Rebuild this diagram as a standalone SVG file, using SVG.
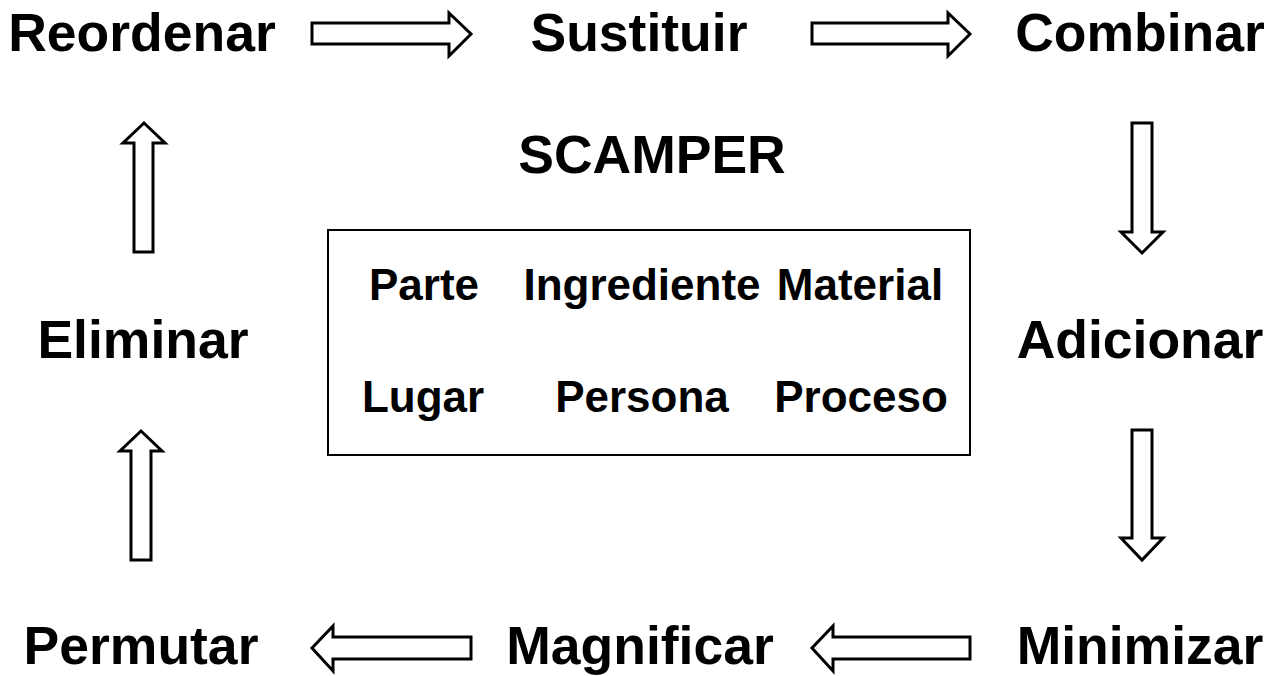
<svg xmlns="http://www.w3.org/2000/svg" width="1284" height="676" viewBox="0 0 1284 676">
<style>
.lbl{font-family:"Liberation Sans",Arial,sans-serif;font-weight:bold;font-size:53.5px;fill:#000;text-anchor:middle}
.in{font-family:"Liberation Sans",Arial,sans-serif;font-weight:bold;font-size:44px;fill:#000;text-anchor:middle}
.arr{fill:#fff;stroke:#000;stroke-width:3;stroke-linejoin:miter}
</style>
<rect width="1284" height="676" fill="#fff"/>
<g id="connectors">
<polygon class="arr" points="312,23 449,23 449,13 471,34 449,56 449,44 312,44"/>
<polygon class="arr" points="812,23 948,23 948,13 970,34 948,56 948,44 812,44"/>
<polygon class="arr" points="1132,123 1152,123 1152,232 1163,232 1142,253 1121,232 1132,232"/>
<polygon class="arr" points="1132,430 1152,430 1152,538 1163,538 1142,560 1121,538 1132,538"/>
<polygon class="arr" points="471,637 333,637 333,626 312,648 333,671 333,659 471,659"/>
<polygon class="arr" points="970,637 833,637 833,626 812,648 833,671 833,659 970,659"/>
<polygon class="arr" points="134,252 153,252 153,143 165,143 144,123 123,143 134,143"/>
<polygon class="arr" points="131,560 151,560 151,451 162,451 141,431 120,451 131,451"/>
</g>
<g id="reordenar"><text class="lbl" x="142" y="51">Reordenar</text></g>
<g id="sustituir"><text class="lbl" x="639" y="51">Sustituir</text></g>
<g id="combinar"><text class="lbl" x="1140" y="51">Combinar</text></g>
<g id="eliminar"><text class="lbl" x="143" y="358">Eliminar</text></g>
<g id="adicionar"><text class="lbl" x="1140" y="358">Adicionar</text></g>
<g id="permutar"><text class="lbl" x="141" y="664">Permutar</text></g>
<g id="magnificar"><text class="lbl" x="640" y="664">Magnificar</text></g>
<g id="minimizar"><text class="lbl" x="1140" y="664">Minimizar</text></g>
<g id="scamper"><text class="lbl" x="652" y="173">SCAMPER</text></g>
<g id="box">
<rect x="328" y="230" width="642" height="225" fill="#fff" stroke="#000" stroke-width="2"/>
<text class="in" x="424" y="300">Parte</text>
<text class="in" x="642" y="300">Ingrediente</text>
<text class="in" x="860" y="300">Material</text>
<text class="in" x="423" y="412">Lugar</text>
<text class="in" x="642" y="412">Persona</text>
<text class="in" x="861" y="412">Proceso</text>
</g>
</svg>
